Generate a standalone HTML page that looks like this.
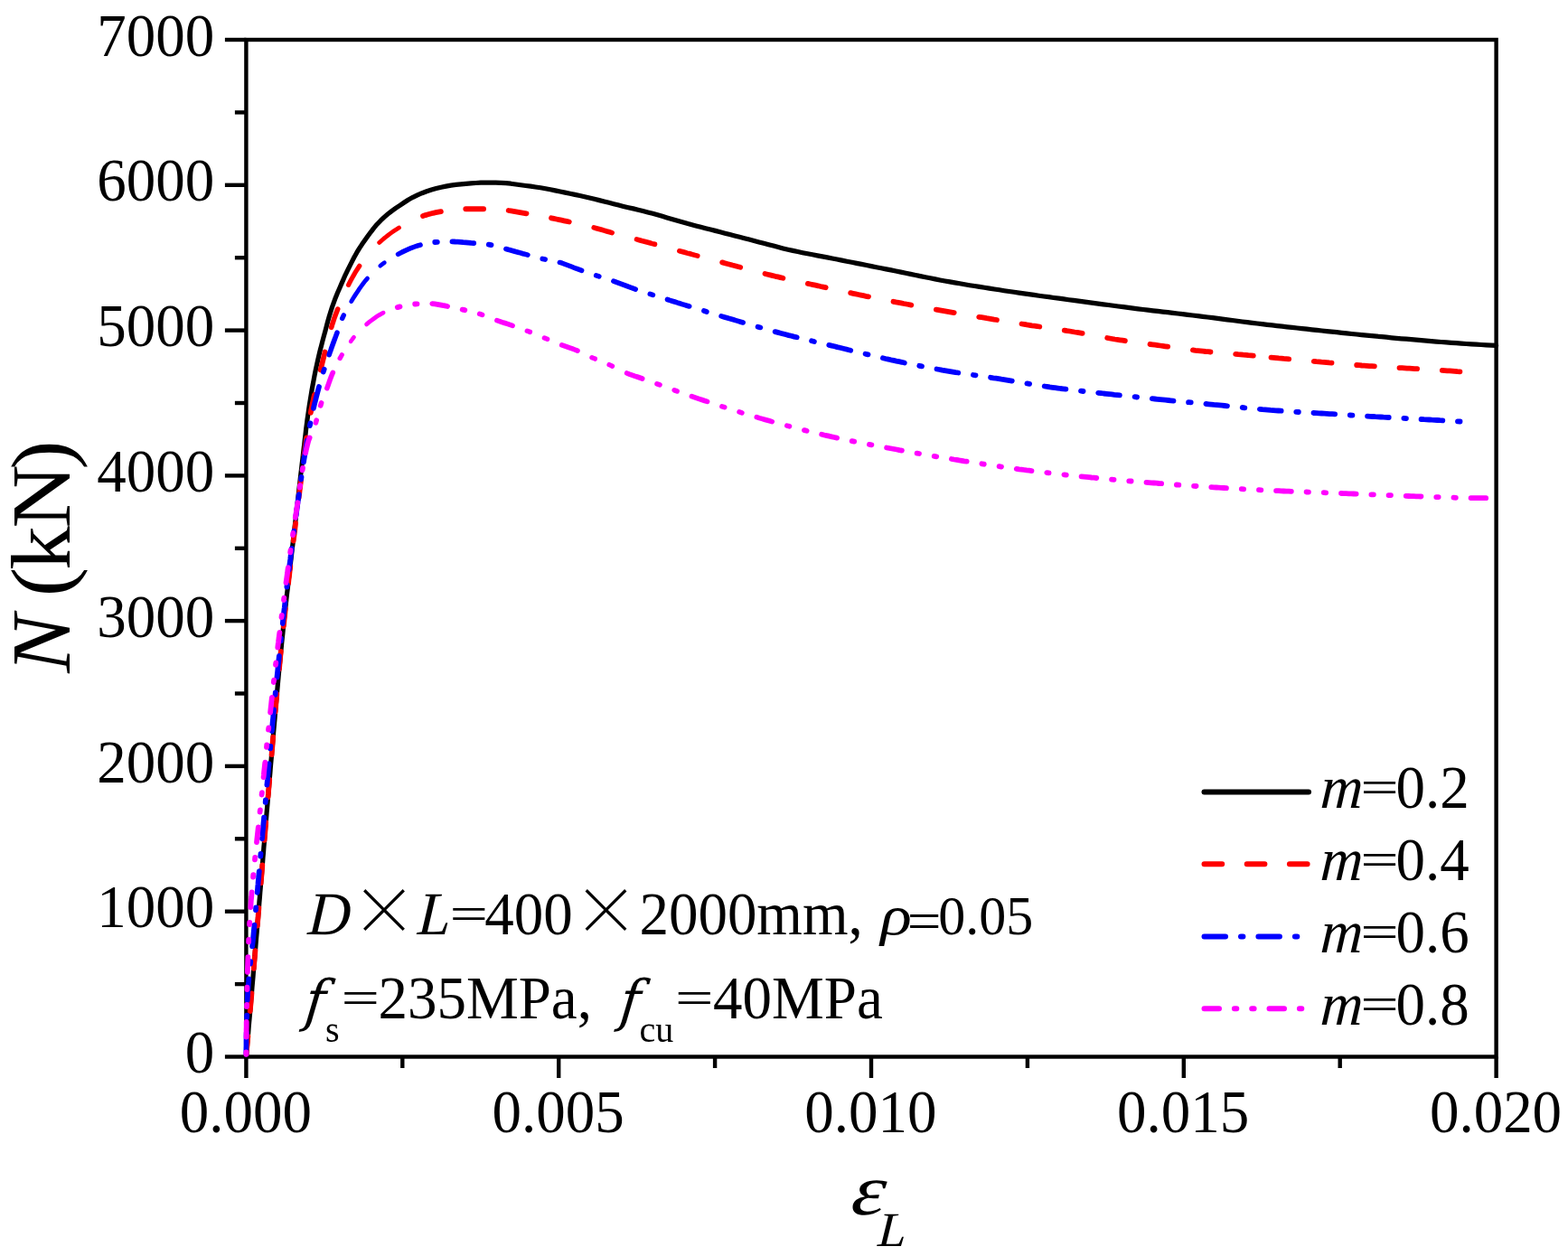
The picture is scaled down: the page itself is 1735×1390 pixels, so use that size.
<!DOCTYPE html>
<html lang="en"><head><meta charset="utf-8"><title>N (kN)</title>
<style>
html,body{margin:0;padding:0;background:#fff;}
body{width:1735px;height:1390px;overflow:hidden;}
svg{display:block;}
text{font-family:"Liberation Serif",serif;fill:#000;}
.x{font-family:"Noto Serif CJK SC","Liberation Serif",serif;}
.f{font-family:"DejaVu Serif","Liberation Serif",serif;}
</style></head><body>
<svg width="1735" height="1390" viewBox="0 0 1735 1390">
<rect x="0" y="0" width="1735" height="1390" fill="#ffffff"/>
<g stroke="#000" stroke-width="4.4" fill="none" stroke-linecap="butt">
<rect x="272.4" y="44.0" width="1383.2" height="1125.5"/>
<line x1="248.9" y1="1169.5" x2="272.4" y2="1169.5"/>
<line x1="259.9" y1="1089.1" x2="272.4" y2="1089.1"/>
<line x1="248.9" y1="1008.7" x2="272.4" y2="1008.7"/>
<line x1="259.9" y1="928.3" x2="272.4" y2="928.3"/>
<line x1="248.9" y1="847.9" x2="272.4" y2="847.9"/>
<line x1="259.9" y1="767.5" x2="272.4" y2="767.5"/>
<line x1="248.9" y1="687.1" x2="272.4" y2="687.1"/>
<line x1="259.9" y1="606.8" x2="272.4" y2="606.8"/>
<line x1="248.9" y1="526.4" x2="272.4" y2="526.4"/>
<line x1="259.9" y1="446.0" x2="272.4" y2="446.0"/>
<line x1="248.9" y1="365.6" x2="272.4" y2="365.6"/>
<line x1="259.9" y1="285.2" x2="272.4" y2="285.2"/>
<line x1="248.9" y1="204.8" x2="272.4" y2="204.8"/>
<line x1="259.9" y1="124.4" x2="272.4" y2="124.4"/>
<line x1="248.9" y1="44.0" x2="272.4" y2="44.0"/>
<line x1="272.4" y1="1169.5" x2="272.4" y2="1193.0"/>
<line x1="445.3" y1="1169.5" x2="445.3" y2="1182.0"/>
<line x1="618.2" y1="1169.5" x2="618.2" y2="1193.0"/>
<line x1="791.1" y1="1169.5" x2="791.1" y2="1182.0"/>
<line x1="964.0" y1="1169.5" x2="964.0" y2="1193.0"/>
<line x1="1136.9" y1="1169.5" x2="1136.9" y2="1182.0"/>
<line x1="1309.8" y1="1169.5" x2="1309.8" y2="1193.0"/>
<line x1="1482.7" y1="1169.5" x2="1482.7" y2="1182.0"/>
<line x1="1655.6" y1="1169.5" x2="1655.6" y2="1193.0"/>
</g>
<g fill="none" stroke-width="5.6" stroke-linecap="round" stroke-linejoin="round">
<path stroke="#000000" stroke-width="5.2" d="M272.4,1169.5 L272.9,1164.0 L273.4,1158.5 L273.8,1153.0 L274.3,1147.4 L274.8,1141.9 L275.2,1136.4 L275.7,1130.9 L276.2,1125.4 L276.7,1119.9 L277.1,1114.4 L277.6,1108.8 L278.1,1103.3 L278.6,1097.8 L279.0,1092.3 L279.5,1086.8 L280.0,1081.3 L280.4,1075.7 L280.9,1070.2 L281.4,1064.7 L281.8,1059.2 L282.3,1053.7 L282.8,1048.2 L283.2,1042.7 L283.7,1037.1 L284.2,1031.6 L284.6,1026.1 L285.1,1020.6 L285.6,1015.1 L286.0,1009.6 L286.5,1004.0 L286.9,998.5 L287.4,993.0 L287.8,987.5 L288.3,982.0 L288.7,976.5 L289.2,970.9 L289.7,965.4 L290.1,959.9 L290.6,954.4 L291.0,948.9 L291.5,943.4 L291.9,937.8 L292.4,932.3 L292.8,926.8 L293.3,921.3 L293.7,915.8 L294.2,910.3 L294.7,904.7 L295.1,899.2 L295.6,893.7 L296.1,888.2 L296.5,882.7 L297.0,877.2 L297.5,871.7 L297.9,866.1 L298.4,860.6 L298.9,855.1 L299.3,849.6 L299.8,844.1 L300.3,838.6 L300.7,833.0 L301.2,827.5 L301.7,822.0 L302.2,816.5 L302.6,811.0 L303.1,805.5 L303.6,800.0 L304.1,794.4 L304.5,788.9 L305.0,783.4 L305.5,777.9 L306.0,772.4 L306.5,766.9 L307.0,761.4 L307.5,755.8 L308.0,750.3 L308.5,744.8 L309.0,739.3 L309.6,733.8 L310.1,728.3 L310.6,722.8 L311.2,717.3 L311.7,711.8 L312.3,706.3 L312.9,700.8 L313.4,695.3 L314.0,689.8 L314.6,684.3 L315.2,678.7 L315.8,673.2 L316.4,667.7 L317.0,662.2 L317.6,656.7 L318.3,651.2 L318.9,645.7 L319.5,640.2 L320.1,634.7 L320.8,629.2 L321.4,623.7 L322.1,618.2 L322.7,612.7 L323.3,607.2 L324.0,601.8 L324.6,596.3 L325.3,590.8 L325.9,585.3 L326.5,579.8 L327.2,574.3 L327.8,568.8 L328.4,563.3 L329.1,557.8 L329.7,552.3 L330.3,546.8 L330.9,541.3 L331.6,535.8 L332.2,530.3 L332.8,524.8 L333.5,519.3 L334.1,513.8 L334.8,508.3 L335.4,502.8 L336.0,497.3 L336.7,491.8 L337.3,486.3 L338.0,480.8 L338.6,475.3 L339.3,469.8 L340.0,464.3 L340.8,458.8 L341.6,453.3 L342.4,447.9 L343.3,442.4 L344.2,436.9 L345.1,431.5 L346.1,426.0 L347.1,420.6 L348.1,415.2 L349.2,409.7 L350.4,404.3 L351.6,398.9 L352.8,393.5 L354.1,388.1 L355.5,382.8 L356.9,377.4 L358.3,372.1 L359.8,366.7 L361.2,361.4 L362.6,356.0 L364.1,350.7 L365.7,345.4 L367.4,340.1 L369.3,334.9 L371.2,329.7 L373.3,324.6 L375.5,319.5 L377.7,314.4 L379.9,309.4 L382.1,304.3 L384.5,299.3 L387.0,294.3 L389.5,289.4 L392.0,284.5 L394.7,279.7 L397.6,274.9 L400.6,270.3 L403.8,265.8 L407.0,261.3 L410.3,256.8 L413.7,252.4 L417.2,248.2 L421.1,244.2 L425.1,240.4 L429.3,236.8 L433.7,233.4 L438.2,230.2 L442.8,227.1 L447.4,224.0 L452.0,221.0 L456.9,218.3 L461.9,215.9 L467.0,213.7 L472.1,211.8 L477.4,210.1 L482.7,208.6 L488.1,207.2 L493.5,206.1 L499.0,205.1 L504.5,204.4 L510.0,203.8 L515.5,203.3 L521.0,202.9 L526.5,202.5 L532.0,202.2 L537.6,202.1 L543.1,202.1 L548.6,202.2 L554.2,202.3 L559.7,202.7 L565.2,203.2 L570.7,204.0 L576.2,204.8 L581.7,205.5 L587.2,206.2 L592.6,207.0 L598.1,207.8 L603.6,208.8 L609.0,209.8 L614.4,210.9 L619.8,212.0 L625.3,213.1 L630.7,214.2 L636.1,215.4 L641.5,216.5 L646.9,217.7 L652.3,219.0 L657.7,220.3 L663.1,221.6 L668.4,223.0 L673.8,224.3 L679.2,225.7 L684.5,227.0 L689.9,228.4 L695.3,229.7 L700.7,230.9 L706.1,232.2 L711.4,233.5 L716.8,234.9 L722.2,236.3 L727.5,237.8 L732.8,239.3 L738.1,240.9 L743.4,242.5 L748.7,244.1 L754.0,245.6 L759.4,247.1 L764.7,248.5 L770.1,249.9 L775.4,251.3 L780.8,252.7 L786.2,254.1 L791.5,255.4 L796.9,256.8 L802.2,258.2 L807.6,259.6 L813.0,261.0 L818.3,262.3 L823.7,263.7 L829.0,265.1 L834.4,266.5 L839.8,267.9 L845.1,269.3 L850.5,270.7 L855.8,272.1 L861.2,273.5 L866.5,274.9 L871.9,276.2 L877.3,277.4 L882.7,278.5 L888.1,279.7 L893.6,280.8 L899.0,281.8 L904.4,282.9 L909.9,283.9 L915.3,284.9 L920.8,286.0 L926.2,287.0 L931.6,288.1 L937.0,289.2 L942.5,290.3 L947.9,291.4 L953.3,292.4 L958.8,293.5 L964.2,294.6 L969.6,295.7 L975.0,296.8 L980.5,297.9 L985.9,298.9 L991.3,300.0 L996.8,301.1 L1002.2,302.3 L1007.6,303.4 L1013.0,304.5 L1018.4,305.6 L1023.9,306.7 L1029.3,307.8 L1034.7,308.9 L1040.1,310.0 L1045.6,311.0 L1051.0,311.9 L1056.5,312.9 L1061.9,313.8 L1067.4,314.8 L1072.9,315.7 L1078.3,316.5 L1083.8,317.4 L1089.3,318.3 L1094.7,319.1 L1100.2,320.0 L1105.7,320.8 L1111.1,321.7 L1116.6,322.5 L1122.1,323.3 L1127.6,324.1 L1133.0,324.9 L1138.5,325.6 L1144.0,326.4 L1149.5,327.2 L1155.0,328.0 L1160.5,328.7 L1165.9,329.5 L1171.4,330.2 L1176.9,330.9 L1182.4,331.7 L1187.9,332.4 L1193.4,333.1 L1198.9,333.8 L1204.3,334.6 L1209.8,335.3 L1215.3,336.1 L1220.8,336.8 L1226.3,337.5 L1231.8,338.3 L1237.3,339.0 L1242.8,339.7 L1248.2,340.4 L1253.7,341.1 L1259.2,341.8 L1264.7,342.5 L1270.2,343.1 L1275.7,343.8 L1281.2,344.4 L1286.7,345.1 L1292.2,345.7 L1297.7,346.4 L1303.2,347.0 L1308.7,347.6 L1314.2,348.3 L1319.7,349.0 L1325.2,349.6 L1330.7,350.3 L1336.2,351.0 L1341.7,351.7 L1347.2,352.4 L1352.6,353.1 L1358.1,353.8 L1363.6,354.5 L1369.1,355.3 L1374.6,356.0 L1380.1,356.6 L1385.6,357.3 L1391.1,358.0 L1396.6,358.7 L1402.1,359.3 L1407.6,359.9 L1413.1,360.6 L1418.6,361.2 L1424.1,361.8 L1429.6,362.4 L1435.1,363.0 L1440.6,363.6 L1446.1,364.2 L1451.6,364.8 L1457.1,365.4 L1462.6,366.0 L1468.1,366.6 L1473.6,367.2 L1479.1,367.7 L1484.6,368.3 L1490.1,368.9 L1495.6,369.5 L1501.1,370.0 L1506.6,370.6 L1512.1,371.1 L1517.7,371.7 L1523.2,372.2 L1528.7,372.7 L1534.2,373.2 L1539.7,373.8 L1545.2,374.3 L1550.7,374.8 L1556.2,375.2 L1561.7,375.7 L1567.3,376.2 L1572.8,376.7 L1578.3,377.2 L1583.8,377.6 L1589.3,378.1 L1594.8,378.5 L1600.4,378.9 L1605.9,379.3 L1611.4,379.7 L1616.9,380.1 L1622.4,380.5 L1628.0,380.8 L1633.5,381.2 L1639.0,381.5 L1644.5,381.8 L1650.1,382.1 L1655.6,382.4"/>
<path stroke="#ff0000" stroke-width="4.8" d="M419.7,268.5L422.5,266.0L425.2,263.7L427.9,261.5L430.6,259.4L433.3,257.4L436.0,255.5L438.8,253.7L441.5,252.0"/>
<path stroke="#ff0000" stroke-width="5.2" d="M385.6,315.4L386.9,312.7L388.3,310.1L389.7,307.5L391.2,304.9L392.7,302.2L394.3,299.6L396.0,297.0L397.8,294.3"/>
<path stroke="#ff0000" stroke-width="5.6" d="M366.7,362.3L367.5,359.4L368.5,356.5L369.4,353.6L370.4,350.7L371.5,347.8L372.6,345.0L373.7,342.1M657.2,251.9L660.0,252.7L662.9,253.5L665.8,254.3L668.6,255.1L671.5,256.0L674.4,256.8L677.2,257.6M704.5,264.9L707.4,265.7L710.2,266.5L713.1,267.2L716.0,268.0L718.8,268.8L721.7,269.6L724.5,270.3M751.8,277.8L754.7,278.5L757.6,279.3L760.4,280.1L763.3,280.8L766.1,281.6L769.0,282.4L771.8,283.1"/>
<path stroke="#ff0000" stroke-width="5.8" d="M272.7,1166.4L272.9,1163.6L273.1,1160.8L273.4,1158.0L273.6,1155.2L273.9,1152.4L274.1,1149.6L274.4,1146.8M276.7,1119.1L277.0,1116.3L277.2,1113.5L277.5,1110.7L277.7,1107.9L277.9,1105.1L278.2,1102.3L278.4,1099.5M280.8,1071.8L281.0,1069.0L281.2,1066.2L281.5,1063.4L281.7,1060.6L282.0,1057.8L282.2,1055.0L282.4,1052.2M284.8,1024.5L285.0,1021.7L285.2,1018.9L285.5,1016.1L285.7,1013.3L285.9,1010.5L286.2,1007.6L286.4,1004.8M288.7,977.2L288.9,974.4L289.1,971.5L289.4,968.7L289.6,965.9L289.8,963.1L290.1,960.3L290.3,957.5M292.6,929.8L292.8,927.0L293.0,924.2L293.3,921.4L293.5,918.6L293.7,915.8L294.0,913.0L294.2,910.2M296.5,882.5L296.8,879.7L297.0,876.9L297.2,874.1L297.5,871.3L297.7,868.5L298.0,865.7L298.2,862.9M300.6,835.2L300.8,832.4L301.0,829.6L301.3,826.8L301.5,824.0L301.7,821.2L302.0,818.4L302.2,815.6M304.6,787.9L304.8,785.1L305.1,782.3L305.3,779.5L305.6,776.7L305.8,773.9L306.1,771.0L306.3,768.2M308.9,740.6L309.2,737.8L309.4,735.0L309.7,732.1L310.0,729.3L310.2,726.5L310.5,723.7L310.8,720.9M313.7,693.3L314.0,690.4L314.3,687.6L314.6,684.8L314.9,682.0L315.2,679.2L315.5,676.4L315.8,673.6M319.0,645.9L319.3,643.1L319.6,640.3L320.0,637.5L320.3,634.7L320.6,631.9L321.0,629.1L321.3,626.3M324.7,598.6L325.0,595.8L325.4,593.0L325.7,590.2L326.1,587.4L326.4,584.6L326.8,581.7L327.1,578.9M330.6,551.3L330.9,548.5L331.3,545.7L331.6,542.9L332.0,540.1L332.3,537.2L332.7,534.4L333.0,531.6M336.5,504.0L336.9,501.2L337.3,498.4L337.7,495.5L338.1,492.7L338.5,489.9L338.9,487.1L339.3,484.3M343.8,456.7L344.3,453.9L344.9,451.1L345.5,448.2L346.1,445.4L346.7,442.6L347.3,439.7L348.0,436.9M354.7,409.5L355.4,406.6L356.1,403.8L356.8,400.9L357.5,398.1L358.2,395.2L358.9,392.4L359.6,389.5M468.0,239.0L470.8,238.1L473.7,237.3L476.5,236.5L479.3,235.8L482.2,235.2L485.0,234.7L487.9,234.2M562.7,233.0L565.5,233.4L568.3,233.8L571.2,234.3L574.0,234.8L576.8,235.3L579.6,235.8L582.5,236.3M610.0,241.3L612.8,241.9L615.6,242.5L618.5,243.1L621.3,243.7L624.1,244.3L627.0,244.9L629.8,245.5M799.2,290.4L802.0,291.2L804.9,292.0L807.7,292.7L810.6,293.5L813.4,294.2L816.3,295.0L819.2,295.7M846.5,303.0L849.4,303.7L852.2,304.4L855.1,305.1L857.9,305.8L860.8,306.4L863.6,307.1L866.4,307.8M893.9,313.9L896.7,314.5L899.5,315.1L902.4,315.7L905.2,316.3L908.1,317.0L910.9,317.6L913.7,318.2M941.2,324.2L944.0,324.8L946.9,325.4L949.7,326.0L952.5,326.6L955.4,327.2L958.2,327.8L961.0,328.3M988.5,333.8L991.4,334.4L994.2,334.9L997.0,335.4L999.9,336.0L1002.7,336.5L1005.5,337.0L1008.3,337.6M1035.9,342.6L1038.7,343.1L1041.5,343.6L1044.4,344.1L1047.2,344.6L1050.0,345.1L1052.8,345.6L1055.7,346.1M1083.2,350.8L1086.0,351.2L1088.9,351.7L1091.7,352.2L1094.5,352.6L1097.3,353.1L1100.1,353.6L1103.0,354.0M1130.5,358.5L1133.4,358.9L1136.2,359.4L1139.0,359.8L1141.8,360.3L1144.6,360.7L1147.5,361.1L1150.3,361.5M1177.8,365.6L1180.7,366.1L1183.5,366.5L1186.3,367.0L1189.1,367.5L1192.0,367.9L1194.8,368.4L1197.6,368.9M1225.2,374.0L1228.0,374.5L1230.8,375.0L1233.6,375.5L1236.5,375.9L1239.3,376.3L1242.1,376.7L1244.9,377.2M1272.5,381.0L1275.3,381.3L1278.1,381.7L1281.0,382.1L1283.8,382.5L1286.6,382.9L1289.4,383.3L1292.2,383.7M1319.9,387.4L1322.7,387.8L1325.5,388.1L1328.3,388.4L1331.1,388.7L1333.9,389.0L1336.7,389.2L1339.5,389.5M1367.2,391.9L1370.0,392.2L1372.8,392.4L1375.6,392.7L1378.4,392.9L1381.2,393.2L1384.0,393.4L1386.8,393.7M1406.5,395.6L1409.3,395.8L1412.1,396.1L1414.9,396.4L1417.7,396.6L1420.5,396.9L1423.3,397.1L1426.2,397.4M1453.8,399.9L1456.6,400.2L1459.4,400.4L1462.2,400.7L1465.0,400.9L1467.9,401.1L1470.7,401.4L1473.5,401.6M1501.2,404.0L1504.0,404.2L1506.8,404.5L1509.6,404.7L1512.4,404.9L1515.2,405.1L1518.0,405.2L1520.8,405.4M1548.5,407.1L1551.3,407.2L1554.1,407.4L1556.9,407.6L1559.7,407.7L1562.5,407.9L1565.3,408.1L1568.1,408.2M1595.8,409.9L1598.6,410.1L1601.4,410.3L1604.2,410.4L1607.0,410.6L1609.8,410.8L1612.6,411.1L1615.4,411.3"/>
<path stroke="#ff0000" stroke-width="6.0" d="M515.4,231.3L518.2,231.3L521.0,231.3L523.8,231.3L526.6,231.3L529.4,231.3L532.2,231.3L535.0,231.3"/>
<path stroke="#0000ff" stroke-width="4.6" d="M420.7,294.2L423.0,292.4L425.4,290.6"/>
<path stroke="#0000ff" stroke-width="4.8" d="M388.7,333.6L390.4,330.7L392.2,327.9L394.0,325.1L395.9,322.3L397.8,319.4L399.8,316.6L401.9,313.8L404.1,310.9L406.5,308.1"/>
<path stroke="#0000ff" stroke-width="5.4" d="M378.7,352.4L379.5,350.6L380.3,348.9M440.5,281.3L443.3,279.9L446.0,278.5L448.7,277.2L451.4,276.0L454.2,274.8L456.9,273.7L459.6,272.8L462.3,271.9L465.1,271.1M619.3,290.4L622.0,291.2L624.7,292.2L627.4,293.2L630.1,294.2L632.8,295.3L635.6,296.4L638.3,297.4L641.0,298.4L643.7,299.4"/>
<path stroke="#0000ff" stroke-width="5.6" d="M357.8,411.7L358.3,410.2L358.8,408.7M364.2,392.6L365.1,389.9L366.1,387.2L367.0,384.5L368.0,381.8L369.0,379.0L370.0,376.3L371.0,373.6L372.0,370.9L373.0,368.2M559.9,275.5L562.6,276.3L565.3,277.0L567.9,277.7L570.6,278.5L573.3,279.2L575.9,279.9L578.6,280.7L581.3,281.4L583.9,282.1M659.7,304.8L661.3,305.3L662.8,305.8M678.9,311.1L681.6,312.1L684.3,313.1L687.0,314.1L689.7,315.1L692.4,316.1L695.1,317.2L697.8,318.2L700.5,319.1L703.2,320.1M719.3,325.4L720.8,325.9L722.4,326.4M738.5,331.5L741.2,332.4L743.9,333.2L746.6,334.0L749.3,334.9L751.9,335.7L754.6,336.6L757.3,337.4L760.0,338.2L762.7,339.0M778.9,344.0L780.4,344.5L781.9,345.0M798.1,349.9L800.8,350.7L803.5,351.5L806.2,352.3L808.8,353.0L811.5,353.8L814.2,354.6L816.8,355.4L819.5,356.2L822.2,357.0M838.5,361.7L841.4,362.5"/>
<path stroke="#0000ff" stroke-width="5.8" d="M272.4,1166.5L272.4,1163.5L272.4,1160.6L272.5,1157.6L272.5,1154.7L272.5,1151.7L272.6,1148.8L272.6,1145.8L272.7,1142.9M273.1,1126.2L273.2,1123.6M273.7,1106.9L273.8,1104.0L274.0,1101.0L274.2,1098.1L274.4,1095.1L274.6,1092.2L274.8,1089.2L275.1,1086.3L275.3,1083.3M277.0,1066.6L277.3,1064.1M279.1,1047.4L279.5,1044.4L279.8,1041.5L280.1,1038.5L280.4,1035.6L280.7,1032.6L280.9,1029.6L281.2,1026.7L281.5,1023.7M283.0,1007.1L283.2,1004.5M284.7,987.8L285.0,984.9L285.2,981.9L285.5,979.0L285.7,976.0L286.0,973.0L286.3,970.1L286.5,967.1L286.8,964.2M288.3,947.5L288.5,944.9M290.0,928.3L290.3,925.3L290.5,922.4L290.8,919.4L291.1,916.4L291.3,913.5L291.6,910.5L291.9,907.6L292.1,904.6M293.7,887.9L293.9,885.4M295.4,868.7L295.7,865.7L296.0,862.8L296.2,859.8L296.5,856.9L296.8,853.9L297.0,851.0L297.3,848.0L297.6,845.1M299.1,828.4L299.3,825.8M300.8,809.1L301.1,806.2L301.4,803.2L301.6,800.3L301.9,797.3L302.2,794.4L302.5,791.4L302.7,788.5L303.0,785.5M304.6,768.8L304.8,766.3M306.5,749.6L306.8,746.6L307.1,743.7L307.4,740.7L307.7,737.8L308.0,734.8L308.3,731.8L308.6,728.9L308.9,725.9M310.7,709.3L310.9,706.7M312.8,690.0L313.1,687.1L313.4,684.1L313.8,681.2L314.1,678.2L314.4,675.2L314.8,672.3L315.1,669.3L315.5,666.4M317.4,649.7L317.7,647.1M319.8,630.5L320.1,627.5L320.5,624.6L320.9,621.6L321.3,618.6L321.6,615.7L322.0,612.7L322.4,609.8L322.8,606.8M324.9,590.2L325.3,587.6M327.5,570.9L327.9,568.0L328.3,565.0L328.7,562.0L329.1,559.1L329.5,556.1L329.9,553.2L330.4,550.2L330.8,547.2M333.1,530.6L333.5,528.0M336.0,511.4L336.4,508.4L336.9,505.5L337.4,502.5L337.8,499.5L338.3,496.6L338.8,493.6L339.3,490.6L339.8,487.6M342.8,471.1L343.4,468.4M346.9,451.9L347.6,448.9L348.3,445.9L349.1,443.0L349.8,440.0L350.6,437.0L351.4,434.0L352.2,431.0L353.0,428.0M481.3,268.0L483.8,267.8M500.5,267.3L503.5,267.5L506.5,267.6L509.4,267.8L512.4,268.1L515.3,268.3L518.3,268.6L521.2,268.9L524.2,269.1M540.8,270.6L543.5,271.1M600.3,286.5L603.1,287.0M857.7,367.1L860.7,367.9L863.7,368.7L866.7,369.5L869.7,370.3L872.7,371.1L875.7,371.8L878.7,372.6L881.7,373.3M898.1,377.3L900.9,378.0M917.3,381.9L920.3,382.6L923.3,383.3L926.3,384.1L929.3,384.8L932.3,385.5L935.3,386.2L938.3,387.0L941.2,387.7M957.6,391.7L960.5,392.4M976.9,396.3L979.9,397.0L982.9,397.6L985.9,398.3L988.8,398.9L991.8,399.6L994.8,400.2L997.8,400.8L1000.8,401.5M1017.3,404.8L1020.0,405.4M1036.5,408.5L1039.5,409.0L1042.5,409.6L1045.4,410.1L1048.4,410.6L1051.4,411.1L1054.3,411.6L1057.3,412.1L1060.3,412.5M1076.9,415.0L1079.5,415.4M1096.1,417.8L1099.1,418.3L1102.0,418.7L1105.0,419.2L1108.0,419.7L1110.9,420.1L1113.9,420.6L1116.9,421.1L1119.8,421.6M1136.4,424.4L1139.1,424.8M1155.7,427.5L1158.6,427.9L1161.6,428.4L1164.6,428.8L1167.5,429.2L1170.5,429.6L1173.4,430.0L1176.4,430.3L1179.4,430.7M1196.0,432.7L1198.6,433.0M1215.2,434.8L1218.2,435.1L1221.2,435.5L1224.1,435.8L1227.1,436.1L1230.0,436.4L1233.0,436.8L1236.0,437.1L1238.9,437.4M1255.6,439.2L1258.1,439.5M1274.8,441.2L1277.8,441.5L1280.7,441.8L1283.7,442.1L1286.6,442.4L1289.6,442.7L1292.6,443.0L1295.5,443.3L1298.5,443.6M1315.1,445.2L1317.7,445.4M1334.4,447.0L1337.3,447.3L1340.3,447.6L1343.2,447.9L1346.2,448.1L1349.2,448.4L1352.1,448.7L1355.1,449.0L1358.0,449.3M1374.7,451.0L1377.3,451.3M1393.9,452.9L1396.9,453.2L1399.9,453.4L1402.8,453.6L1405.8,453.9L1408.7,454.1L1411.7,454.3L1414.6,454.5L1417.6,454.7M1434.3,455.8L1436.8,456.0M1453.5,457.0L1456.5,457.1L1459.4,457.3L1462.4,457.5L1465.3,457.7L1468.3,457.9L1471.2,458.1L1474.2,458.2L1477.1,458.4M1493.8,459.5L1496.4,459.6M1513.1,460.6L1516.0,460.8L1519.0,461.0L1521.9,461.2L1524.9,461.3L1527.8,461.5L1530.8,461.7L1533.7,461.8L1536.7,462.0M1553.4,462.9L1555.9,463.1M1572.6,464.0L1575.6,464.2L1578.5,464.3L1581.5,464.5L1584.4,464.7L1587.4,464.8L1590.3,465.0L1593.3,465.2L1596.3,465.3M1613.0,466.3L1615.5,466.5"/>
<path stroke="#ff00ff" stroke-width="4.6" d="M388.1,377.8L389.8,375.5L391.6,373.2"/>
<path stroke="#ff00ff" stroke-width="4.8" d="M405.6,358.9L408.2,356.7L410.9,354.6L413.5,352.7L416.2,350.8L418.8,349.1L421.4,347.6L424.1,346.2"/>
<path stroke="#ff00ff" stroke-width="5.2" d="M376.1,396.6L377.2,394.7L378.3,392.8"/>
<path stroke="#ff00ff" stroke-width="5.4" d="M583.3,366.2L584.8,366.8L586.4,367.4M602.4,374.0L604.0,374.6L605.6,375.3M655.0,395.7L656.6,396.4L658.3,397.1M674.1,403.6L675.8,404.4L677.5,405.2"/>
<path stroke="#ff00ff" stroke-width="5.6" d="M349.4,467.9L350.2,465.1M354.7,448.8L355.6,445.9M361.8,429.7L362.9,426.8L363.9,423.9L364.9,421.0L366.0,418.1L367.1,415.2L368.3,412.4M530.7,347.4L533.6,348.4M549.9,354.7L552.8,355.6L555.6,356.6L558.5,357.5L561.3,358.4L564.2,359.4L567.1,360.3M621.7,381.8L624.6,382.8L627.4,383.8L630.3,384.9L633.2,385.9L636.1,387.0L639.0,388.2M693.6,413.0L696.4,414.1L699.3,415.1L702.1,416.1L705.0,417.0L707.9,418.0L710.7,419.0M727.0,424.8L730.0,425.9M746.2,431.8L749.1,432.9M765.4,438.6L768.2,439.6L771.1,440.6L774.0,441.6L776.8,442.5L779.7,443.5L782.6,444.4M798.9,449.8L801.7,450.7M818.1,455.9L820.9,456.8M837.3,461.7L840.1,462.6L843.0,463.4L845.8,464.2L848.6,465.0L851.5,465.8L854.3,466.6M870.8,471.1L873.5,471.8"/>
<path stroke="#ff00ff" stroke-width="5.8" d="M272.4,1166.8L272.4,1164.5M272.5,1147.6L272.6,1144.8L272.6,1142.1L272.6,1139.3L272.7,1136.5L272.7,1133.8L272.7,1131.0M273.0,1114.1L273.1,1111.8M273.4,1095.0L273.4,1092.7M273.9,1075.8L273.9,1073.0L274.0,1070.2L274.1,1067.5L274.2,1064.7L274.3,1061.9L274.4,1059.2M275.1,1042.3L275.2,1040.0M276.1,1023.1L276.2,1020.8M277.3,1004.0L277.5,1001.2L277.7,998.4L277.9,995.6L278.2,992.9L278.4,990.1L278.6,987.3M280.1,970.5L280.3,968.1M282.0,951.3L282.2,949.0M284.0,932.2L284.3,929.4L284.6,926.6L284.9,923.8L285.2,921.0L285.5,918.3L285.8,915.5M287.6,898.7L287.9,896.3M289.6,879.5L289.9,877.1M291.6,860.3L291.9,857.5L292.1,854.8L292.4,852.0L292.7,849.2L293.0,846.4L293.3,843.7M295.0,826.8L295.2,824.5M297.0,807.7L297.3,805.3M299.1,788.5L299.4,785.7L299.7,782.9L300.0,780.2L300.3,777.4L300.6,774.6L300.9,771.8M302.8,755.0L303.1,752.6M305.0,735.8L305.3,733.5M307.3,716.7L307.6,713.9L308.0,711.1L308.3,708.3L308.7,705.5L309.0,702.8L309.4,700.0M311.5,683.2L311.8,680.8M314.0,664.0L314.3,661.6M316.5,644.9L316.9,642.1L317.3,639.3L317.7,636.5L318.1,633.7L318.4,630.9L318.8,628.1M321.2,611.4L321.5,609.0M324.0,592.2L324.3,589.8M326.8,573.0L327.2,570.2L327.7,567.5L328.1,564.7L328.5,561.9L328.9,559.1L329.4,556.3M331.7,539.6L332.1,537.1M334.6,520.4L335.0,517.9M338.1,501.3L338.7,498.5L339.3,495.7L340.0,492.8L340.7,490.0L341.5,487.2L342.6,484.4M439.8,340.1L442.5,339.4M459.2,336.5L461.5,336.3M478.3,336.1L481.1,336.4L483.9,336.8L486.7,337.3L489.5,337.9L492.3,338.4L495.1,339.0M511.7,342.6L514.3,343.2M890.0,476.1L892.6,476.8M909.2,480.8L912.0,481.5L914.8,482.1L917.6,482.7L920.5,483.4L923.3,484.0L926.1,484.6M942.7,488.1L945.2,488.6M961.9,491.9L964.4,492.3M981.1,495.5L983.9,496.0L986.7,496.5L989.5,497.0L992.3,497.5L995.1,498.1L997.9,498.6M1014.6,501.6L1017.0,502.0M1033.7,504.9L1036.2,505.3M1052.9,508.0L1055.7,508.5L1058.5,508.9L1061.3,509.4L1064.1,509.8L1066.9,510.3L1069.7,510.7M1086.4,513.3L1088.8,513.7M1105.6,516.2L1108.0,516.6M1124.8,518.9L1127.6,519.3L1130.3,519.6L1133.1,520.0L1135.9,520.4L1138.7,520.7L1141.5,521.1M1158.3,523.1L1160.6,523.4M1177.4,525.3L1179.8,525.6M1196.6,527.4L1199.4,527.6L1202.2,527.9L1205.0,528.2L1207.7,528.5L1210.5,528.7L1213.3,529.0M1230.1,530.6L1232.5,530.8M1249.3,532.3L1251.6,532.5M1268.5,533.9L1271.2,534.1L1274.0,534.3L1276.8,534.5L1279.6,534.7L1282.3,535.0L1285.1,535.2M1301.9,536.5L1304.3,536.7M1321.1,537.9L1323.5,538.0M1340.3,539.2L1343.1,539.4L1345.8,539.5L1348.6,539.7L1351.4,539.9L1354.2,540.0L1356.9,540.2M1373.8,541.2L1376.1,541.3M1393.0,542.2L1395.3,542.3M1412.1,543.1L1414.9,543.2L1417.7,543.4L1420.4,543.5L1423.2,543.6L1426.0,543.7L1428.8,543.9M1445.6,544.5L1447.9,544.6M1464.8,545.2L1467.1,545.3M1484.0,546.0L1486.7,546.1L1489.5,546.2L1492.3,546.3L1495.0,546.4L1497.8,546.5L1500.6,546.6M1517.4,547.3L1519.8,547.4M1536.6,548.1L1538.9,548.2M1555.8,548.9L1558.6,549.0L1561.3,549.1L1564.1,549.2L1566.9,549.3L1569.6,549.4L1572.4,549.5M1589.3,550.1L1591.6,550.2M1608.5,550.7L1610.8,550.8M1627.6,551.1L1630.4,551.2L1633.2,551.2L1635.9,551.2L1638.7,551.2L1641.5,551.2L1644.2,551.2"/>
</g>
<text transform="translate(237.2,1187.1) scale(1,1.04)" font-size="65" text-anchor="end">0</text>
<text transform="translate(237.2,1026.3) scale(1,1.04)" font-size="65" text-anchor="end">1000</text>
<text transform="translate(237.2,865.5) scale(1,1.04)" font-size="65" text-anchor="end">2000</text>
<text transform="translate(237.2,704.7) scale(1,1.04)" font-size="65" text-anchor="end">3000</text>
<text transform="translate(237.2,544.0) scale(1,1.04)" font-size="65" text-anchor="end">4000</text>
<text transform="translate(237.2,383.2) scale(1,1.04)" font-size="65" text-anchor="end">5000</text>
<text transform="translate(237.2,222.4) scale(1,1.04)" font-size="65" text-anchor="end">6000</text>
<text transform="translate(237.2,61.6) scale(1,1.04)" font-size="65" text-anchor="end">7000</text>
<text transform="translate(271.8,1253.3) scale(1,1.04)" font-size="65" text-anchor="middle">0.000</text>
<text transform="translate(617.6,1253.3) scale(1,1.04)" font-size="65" text-anchor="middle">0.005</text>
<text transform="translate(963.4,1253.3) scale(1,1.04)" font-size="65" text-anchor="middle">0.010</text>
<text transform="translate(1309.2,1253.3) scale(1,1.04)" font-size="65" text-anchor="middle">0.015</text>
<text transform="translate(1655.0,1253.3) scale(1,1.04)" font-size="65" text-anchor="middle">0.020</text>
<text transform="translate(76.5,744.7) rotate(-90) scale(1.05,1)" font-size="92.5"><tspan font-style="italic" x="0">N</tspan><tspan x="66"> </tspan><tspan x="80.5">(</tspan><tspan x="108.5">k</tspan><tspan x="152.5">N</tspan><tspan x="214.3">)</tspan></text>
<text transform="translate(940.6,1344.0) skewX(-6) scale(1.19,1.0)" font-size="80" font-style="italic">ε</text>
<text transform="translate(970.8,1378.6) skewX(-3.5) scale(1.04,1.0)" font-size="54" font-style="italic">L</text>
<text transform="translate(340.0,1034.3) skewX(-3.5) scale(1,1.04)" font-size="65" font-style="italic">D</text>
<text transform="translate(387.6,1034.9)" font-size="75" class="x">×</text>
<text transform="translate(461.6,1034.3) skewX(-3.5) scale(1,1.04)" font-size="65" font-style="italic">L</text>
<text transform="translate(497.5,1029.4) scale(1.16,0.8)" font-size="65">=</text>
<text transform="translate(536.3,1034.3) scale(1,1.04)" font-size="65">400</text>
<text transform="translate(633.0,1034.9)" font-size="75" class="x">×</text>
<text transform="translate(707.4,1034.3) scale(1,1.04)" font-size="65">2000mm,</text>
<text transform="translate(974.3,1034.3) scale(1.18,1.0)" font-size="61" font-style="italic">ρ</text>
<text transform="translate(1003.8,1039.3) scale(1.03,0.92)" font-size="65">=</text>
<text transform="translate(1038.3,1034.3) scale(1,1.02)" font-size="60">0.05</text>
<text transform="translate(335.7,1129.2) skewX(-6) scale(1,1.04)" font-size="60" font-style="italic" class="f">f</text>
<text transform="translate(360.1,1152.8) scale(1,1.04)" font-size="40">s</text>
<text transform="translate(377.6,1122.0) scale(1.16,0.8)" font-size="65">=</text>
<text transform="translate(418.4,1126.9) scale(1,1.04)" font-size="65">235MPa,</text>
<text transform="translate(684.3,1129.2) skewX(-6) scale(1,1.04)" font-size="60" font-style="italic" class="f">f</text>
<text transform="translate(707.5,1152.8) scale(1,1.04)" font-size="40">cu</text>
<text transform="translate(747.1,1122.0) scale(1.16,0.8)" font-size="65">=</text>
<text transform="translate(789.0,1126.9) scale(1,1.04)" font-size="65">40MPa</text>
<g fill="none" stroke-width="6" stroke-linecap="round">
<line x1="1332.5" y1="876.4" x2="1448" y2="876.4" stroke="#000000"/>
<line x1="1332.5" y1="956.2" x2="1448" y2="956.2" stroke="#ff0000" stroke-dasharray="19.7 27.5"/>
<line x1="1332.5" y1="1036.4" x2="1448" y2="1036.4" stroke="#0000ff" stroke-dasharray="23.5 17 2.4 17"/>
<line x1="1332.5" y1="1116.2" x2="1448" y2="1116.2" stroke="#ff00ff" stroke-dasharray="16.5 16.9 2.4 16.9 2.4 16.9"/>
</g>
<text transform="translate(1460.2,893.7) skewX(-3.5) scale(1,1.04)" font-size="65" font-style="italic">m</text>
<text transform="translate(1505.3,888.8) scale(1.16,0.8)" font-size="65">=</text>
<text transform="translate(1544.6,893.7) scale(1,1.04)" font-size="65">0.2</text>
<text transform="translate(1460.2,973.5) skewX(-3.5) scale(1,1.04)" font-size="65" font-style="italic">m</text>
<text transform="translate(1505.3,968.6) scale(1.16,0.8)" font-size="65">=</text>
<text transform="translate(1544.6,973.5) scale(1,1.04)" font-size="65">0.4</text>
<text transform="translate(1460.2,1053.7) skewX(-3.5) scale(1,1.04)" font-size="65" font-style="italic">m</text>
<text transform="translate(1505.3,1048.8) scale(1.16,0.8)" font-size="65">=</text>
<text transform="translate(1544.6,1053.7) scale(1,1.04)" font-size="65">0.6</text>
<text transform="translate(1460.2,1133.5) skewX(-3.5) scale(1,1.04)" font-size="65" font-style="italic">m</text>
<text transform="translate(1505.3,1128.6) scale(1.16,0.8)" font-size="65">=</text>
<text transform="translate(1544.6,1133.5) scale(1,1.04)" font-size="65">0.8</text>
</svg></body></html>
